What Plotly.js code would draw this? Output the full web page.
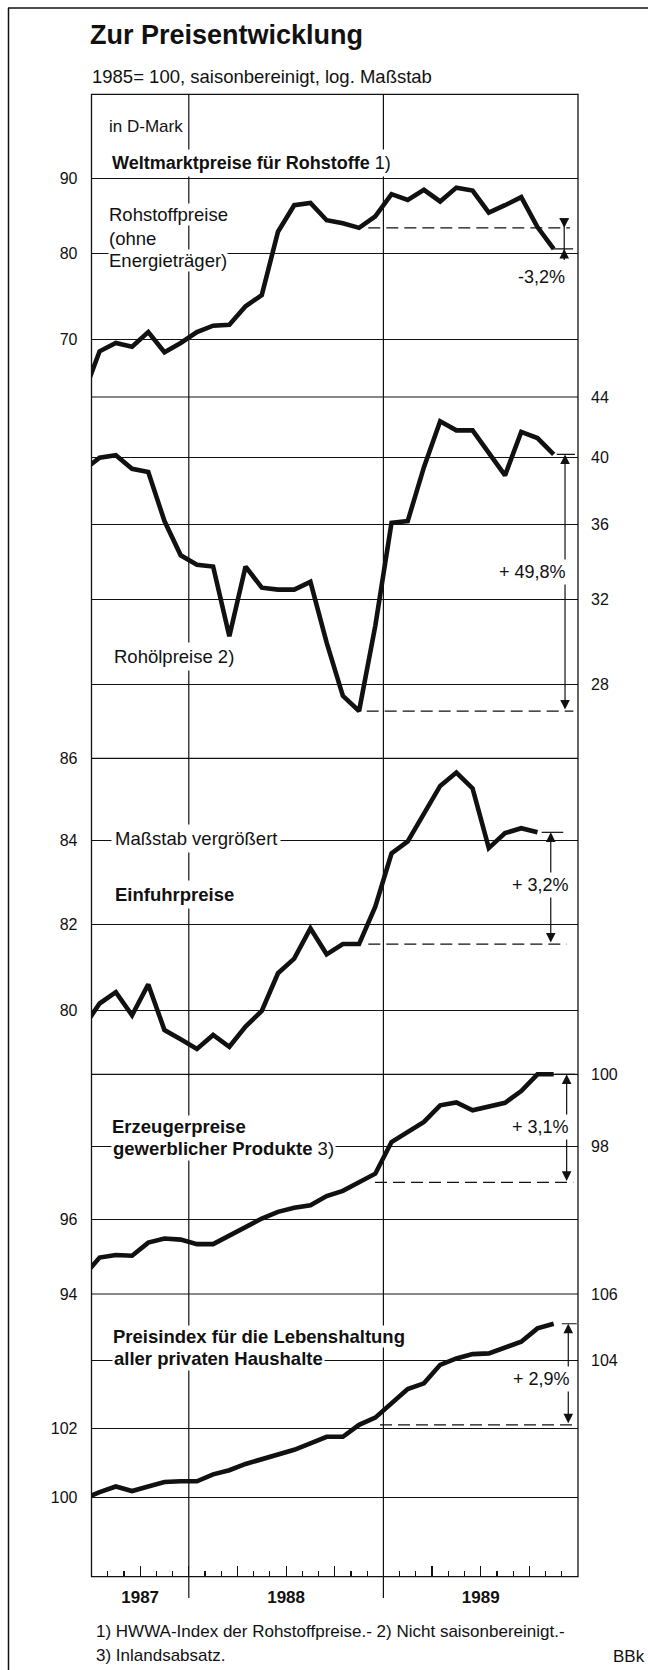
<!DOCTYPE html>
<html>
<head>
<meta charset="utf-8">
<script src="https://cdn.plot.ly/plotly-3.0.1.min.js"></script>
<style>
html,body{margin:0;padding:0;background:#fff}
#chart{width:648px;height:1670px}
</style>
</head>
<body>
<div id="chart"></div>
<script>
// ---------------- DATA ----------------
const months = ['Jun 1987','Jul 1987','Aug 1987','Sep 1987','Oct 1987','Nov 1987','Dec 1987',
  'Jan 1988','Feb 1988','Mar 1988','Apr 1988','May 1988','Jun 1988','Jul 1988','Aug 1988','Sep 1988','Oct 1988','Nov 1988','Dec 1988',
  'Jan 1989','Feb 1989','Mar 1989','Apr 1989','May 1989','Jun 1989','Jul 1989','Aug 1989','Sep 1989','Oct 1989','Nov 1989'];

// Weltmarktpreise für Rohstoffe (ohne Energieträger), 1985=100
const rohstoffe = [64.2, 68.7, 69.6, 69.2, 70.8, 68.6, 69.6,
  70.8, 71.5, 71.6, 73.7, 75.0, 82.8, 86.3, 86.6, 84.3, 83.9, 83.3, 84.8,
  87.8, 87.0, 88.4, 86.8, 88.7, 88.3, 85.3, 86.3, 87.4, 83.4, 80.6];
// Rohölpreise
const rohoel = [39.2, 40.0, 40.15, 39.3, 39.1, 36.2, 34.3,
  33.8, 33.7, 30.2, 33.7, 32.6, 32.5, 32.5, 32.9, 29.9, 27.5, 26.85, 30.7,
  36.1, 36.2, 39.4, 42.35, 41.75, 41.75, 40.25, 38.9, 41.65, 41.25, 40.2];
// Einfuhrpreise (bis Okt 1989)
const einfuhr = [79.6, 80.15, 80.41, 79.88, 80.59, 79.54, 79.33,
  79.11, 79.43, 79.16, 79.62, 79.98, 80.85, 81.19, 81.9, 81.29, 81.53, 81.53, 82.41,
  83.68, 83.97, 84.62, 85.32, 85.65, 85.26, 83.81, 84.17, 84.29, 84.19];
// Erzeugerpreise gewerblicher Produkte
const erzeuger = [94.47, 94.97, 95.04, 95.02, 95.37, 95.48, 95.45,
  95.33, 95.33, 95.55, 95.80, 96.02, 96.20, 96.31, 96.38, 96.63, 96.77, 97.0, 97.24,
  98.11, 98.39, 98.67, 99.13, 99.21, 98.99, 99.08, 99.20, 99.53, 100.0, 100.0];
// Preisindex für die Lebenshaltung
const lebenshaltung = [99.95, 100.15, 100.31, 100.18, 100.31, 100.44, 100.46,
  100.46, 100.66, 100.78, 100.96, 101.10, 101.24, 101.37, 101.56, 101.75, 101.75, 102.1, 102.31,
  102.73, 103.15, 103.32, 103.87, 104.06, 104.19, 104.21, 104.37, 104.56, 104.96, 105.1];

const ticks1 = [70, 80, 90];
const ticks2 = [28, 32, 36, 40, 44];
const ticks3 = [80, 82, 84, 86];
const ticks4Left = [94, 96];
const ticks4Right = [98, 100];
const ticks5Left = [100, 102];
const ticks5Right = [104, 106];
const years = ['1987', '1988', '1989'];
const changeTexts = ['-3,2%', '+ 49,8%', '+ 3,2%', '+ 3,1%', '+ 2,9%'];
const baseMonths = ['Nov 1988', 'Nov 1988', 'Oct 1988', 'Nov 1988', 'Nov 1988'];

// ---------------- GEOMETRY / STYLE ----------------
const W = 648, H = 1670;
const FONT = '"Liberation Sans", Arial, Helvetica, sans-serif';
const INK = '#111';
const px2x = p => p / W;
const py2y = p => 1 - p / H;

// month i is plotted at its middle; axis 0 = 1 Jul 1987
const monthX = months.map((_, i) => i - 0.5);
const monthStart = name => months.indexOf(name) - 1;
const yearStarts = [monthStart('Jan 1988'), monthStart('Jan 1989')];
const quarterStarts = ['Oct 1987','Jan 1988','Apr 1988','Jul 1988','Oct 1988','Jan 1989','Apr 1989','Jul 1989','Oct 1989'].map(monthStart);
const yearCenters = [3, 12, 24];

const plotL = 91.5, plotR = 578;
const bounds = [94.3, 397, 758.3, 1074.3, 1294, 1576.7];
const ext = [[0.6,0.6],[0.6,0.6],[0.6,0.6],[3,0.6],[0.6,0.6]];
const scales = [
  {ref: 90, refPx: 178.3, ppd: 1475},
  {ref: 44, refPx: 397, ppd: 1464},
  {ref: 86, refPx: 758.3, ppd: 8014},
  {ref: 100, refPx: 1074.3, ppd: 8176},
  {ref: 106, refPx: 1294, ppd: 8034}
];
function topPx(i){ return bounds[i] - ext[i][0]; }
function botPx(i){ return bounds[i+1] + ext[i][1]; }
function yRange(i){
  const s = scales[i], l = Math.log10(s.ref);
  return [l - (botPx(i) - s.refPx) / s.ppd, l + (s.refPx - topPx(i)) / s.ppd];
}
function yDomain(i){ return [py2y(botPx(i)), py2y(topPx(i))]; }

function yAxis(i, side, vals, extra){
  return Object.assign({
    type: 'log', domain: yDomain(i), range: yRange(i), autorange: false,
    anchor: 'x', side: side, tickmode: 'array', tickvals: vals, ticktext: vals.map(String),
    showgrid: true, gridcolor: INK, gridwidth: 1, zeroline: false, showline: false,
    ticks: '', tickfont: {family: FONT, size: 16, color: INK},
    ticklabelstandoff: side === 'left' ? 13 : 12, fixedrange: true
  }, extra || {});
}

// ---------------- TRACES ----------------
const seriesList = [rohstoffe, rohoel, einfuhr, erzeuger, lebenshaltung];
const axisIds = ['y', 'y2', 'y3', 'y4', 'y5'];
const traces = seriesList.map((s, i) => ({
  type: 'scatter', mode: 'lines', x: monthX.slice(0, s.length), y: s,
  xaxis: 'x', yaxis: axisIds[i], line: {color: INK, width: 4.6}, hoverinfo: 'skip'
}));
traces.push({type:'scatter', x:[null], y:[null], xaxis:'x2', yaxis:'y5', hoverinfo:'skip'});
traces.push({type:'scatter', x:[null], y:[null], xaxis:'x', yaxis:'y6', hoverinfo:'skip'});
traces.push({type:'scatter', x:[null], y:[null], xaxis:'x', yaxis:'y7', hoverinfo:'skip'});

// comparison markers (dashed base line, bar, arrows, label)
const arrowX = [29.15, 29.2, 28.32, 29.3, 29.4];
const dashX = [[17.07, 29.5], [16.97, 29.71], [17.07, 29.3], [17.48, 29.71], [17.79, 29.92]];
const barX = [[28.38, 29.7], [28.69, 29.81], [27.76, 29.09], [28.58, 29.81], [29.0, 29.92]];
const labelX = [27.76, 27.2, 27.7, 27.7, 27.76];
const labelShift = [-28, 11, 3, 1, -5];

const annotations = [];
seriesList.forEach((s, i) => {
  const ax = axisIds[i];
  const a = s[months.indexOf(baseMonths[i])];
  const b = s[s.length - 1];
  const la = Math.log10(a), lb = Math.log10(b);
  const ppd = scales[i].ppd;
  traces.push({type:'scatter', mode:'lines', x: dashX[i], y: [a, a], xaxis:'x', yaxis: ax,
    line: {color: INK, width: 1.3, dash: '12px,6px'}, hoverinfo:'skip'});
  traces.push({type:'scatter', mode:'lines', x: barX[i], y: [b, b], xaxis:'x', yaxis: ax,
    line: {color: INK, width: 1.2}, hoverinfo:'skip'});
  if (b < a) {
    const capV = Math.pow(10, la + 9 / ppd);
    const tailV = Math.pow(10, lb - 11 / ppd);
    traces.push({type:'scatter', mode:'lines', x: [arrowX[i] - 0.28, arrowX[i] + 0.28], y: [capV, capV],
      xaxis:'x', yaxis: ax, line: {color: INK, width: 1.2}, hoverinfo:'skip'});
    traces.push({type:'scatter', mode:'lines', x: [arrowX[i], arrowX[i]], y: [capV, tailV],
      xaxis:'x', yaxis: ax, line: {color: INK, width: 1.2}, hoverinfo:'skip'});
    annotations.push({xref:'x', yref: ax, x: arrowX[i], y: la, ax: 0, ay: -9, text: '',
      showarrow: true, arrowhead: 2, arrowsize: 1.6, arrowwidth: 1.2, arrowcolor: INK, standoff: 0});
    annotations.push({xref:'x', yref: ax, x: arrowX[i], y: lb, ax: 0, ay: 11, text: '',
      showarrow: true, arrowhead: 2, arrowsize: 1.6, arrowwidth: 1.2, arrowcolor: INK, standoff: 0});
    annotations.push({xref:'x', yref: ax, x: labelX[i], y: lb, yshift: labelShift[i], text: changeTexts[i],
      showarrow: false, xanchor: 'center', yanchor: 'middle', font: {family: FONT, size: 18, color: INK}});
  } else {
    annotations.push({xref:'x', yref: ax, x: arrowX[i], y: lb, axref:'x', ayref: ax, ax: arrowX[i], ay: la,
      text: '', showarrow: true, arrowside: 'end+start', arrowhead: 2, startarrowhead: 2,
      arrowsize: 1.6, startarrowsize: 1.6, arrowwidth: 1.2, arrowcolor: INK, standoff: 0, startstandoff: 0});
    annotations.push({xref:'x', yref: ax, x: labelX[i], y: (la + lb) / 2, yshift: labelShift[i], text: changeTexts[i],
      showarrow: false, xanchor: 'center', yanchor: 'middle', bgcolor: '#fff', borderpad: 2,
      font: {family: FONT, size: 18, color: INK}});
  }
});

// ---------------- TEXT LABELS ----------------
function label(text, px, py, size, bg, pad, anchor){
  return {xref:'paper', yref:'paper', x: px2x(px), y: py2y(py), xanchor: anchor || 'left', yanchor:'middle',
    text: text, showarrow: false, bgcolor: bg ? '#fff' : 'rgba(0,0,0,0)', borderpad: pad === undefined ? (bg ? 3 : 0) : pad,
    font: {family: FONT, size: size, color: INK}};
}
// multi-line blocks are pushed bottom line first so upper boxes never hide descenders
annotations.push(
  label('1985= 100, saisonbereinigt, log. Maßstab', 91, 76.7, 18.5, false),
  label('in D-Mark', 108, 126.7, 17, false),
  label('<b>Weltmarktpreise für Rohstoffe</b> 1)', 108, 163.3, 18, true),
  label('Energieträger)', 108, 260, 18.5, true, 0),
  label('(ohne', 108, 238.3, 18.5, true, 0),
  label('Rohstoffpreise', 108, 215, 18.5, true, 0),
  label('Rohölpreise 2)', 110, 656.7, 18.5, true),
  label('Maßstab vergrößert', 111, 838.3, 18.5, true),
  label('<b>Einfuhrpreise</b>', 111, 895, 18.5, true),
  label('<b>gewerblicher Produkte</b> 3)', 111, 1148.3, 18.5, true, 1),
  label('<b>Erzeugerpreise</b>', 111, 1126.7, 18.5, true, 0),
  label('<b>aller privaten Haushalte</b>', 112, 1358.3, 18.5, true, 1),
  label('<b>Preisindex für die Lebenshaltung</b>', 112, 1336.7, 18.5, true, 0),
  label('1) HWWA-Index der Rohstoffpreise.- 2) Nicht saisonbereinigt.-', 95, 1631.7, 17, false),
  label('3) Inlandsabsatz.', 95, 1655, 17, false),
  label('BBk', 646, 1656, 17, false, 0, 'right')
);

// ---------------- SHAPES ----------------
const shapes = [];
const pline = (x0, y0, x1, y1, w) => ({type:'line', xref:'paper', yref:'paper',
  x0: px2x(x0), y0: py2y(y0), x1: px2x(x1), y1: py2y(y1), line: {color: INK, width: w}});
shapes.push(pline(8.5, 8, 8.5, 1670, 1.5));
shapes.push(pline(8, 8, 648, 8, 1.5));
shapes.push({type:'rect', xref:'paper', yref:'paper', x0: px2x(plotL), x1: px2x(plotR),
  y0: py2y(bounds[5]), y1: py2y(bounds[0]), line: {color: INK, width: 1.3}, fillcolor: 'rgba(0,0,0,0)'});
[1, 2, 3, 4].forEach(k => shapes.push(pline(plotL, bounds[k], plotR, bounds[k], 1.2)));
yearStarts.forEach(x => shapes.push({type:'line', xref:'x', yref:'paper', x0: x, x1: x,
  y0: py2y(1598), y1: py2y(bounds[0]), line: {color: INK, width: 1.2}}));

// ---------------- LAYOUT ----------------
const layout = {
  width: W, height: H, margin: {l:0, r:0, t:0, b:0, pad:0},
  paper_bgcolor: '#fff', plot_bgcolor: 'rgba(0,0,0,0)',
  showlegend: false, hovermode: false,
  font: {family: FONT, color: INK},
  title: {text: '<b>Zur Preisentwicklung</b>', font: {family: FONT, size: 27, color: INK},
    x: px2x(90), xanchor: 'left', xref: 'paper', y: py2y(35), yanchor: 'middle', yref: 'paper'},
  xaxis: {domain: [px2x(plotL), px2x(plotR)], range: [0, 30], autorange: false, anchor: 'y5',
    showgrid: false, zeroline: false, showline: false, showticklabels: false,
    tickmode: 'array', tickvals: quarterStarts, ticks: 'inside', ticklen: 11, tickwidth: 1.2, tickcolor: INK,
    minor: {tickmode: 'linear', tick0: 0, dtick: 1, ticks: 'inside', ticklen: 6, tickwidth: 1.2, tickcolor: INK, showgrid: false},
    fixedrange: true},
  xaxis2: {overlaying: 'x', anchor: 'y5', side: 'bottom', range: [0, 30], autorange: false,
    tickmode: 'array', tickvals: yearCenters, ticktext: years.map(y => '<b>' + y + '</b>'),
    ticks: '', showgrid: false, zeroline: false, showline: false,
    tickfont: {family: FONT, size: 17, color: INK}, ticklabelstandoff: 8, fixedrange: true},
  yaxis: yAxis(0, 'left', ticks1),
  yaxis2: yAxis(1, 'right', ticks2),
  yaxis3: yAxis(2, 'left', ticks3),
  yaxis4: yAxis(3, 'left', ticks4Left),
  yaxis5: yAxis(4, 'left', ticks5Left),
  yaxis6: yAxis(3, 'right', ticks4Right, {overlaying: 'y4'}),
  yaxis7: yAxis(4, 'right', ticks5Right, {overlaying: 'y5'}),
  shapes: shapes,
  annotations: annotations
};

Plotly.newPlot('chart', traces, layout, {staticPlot: true, displayModeBar: false});
</script>
</body>
</html>
